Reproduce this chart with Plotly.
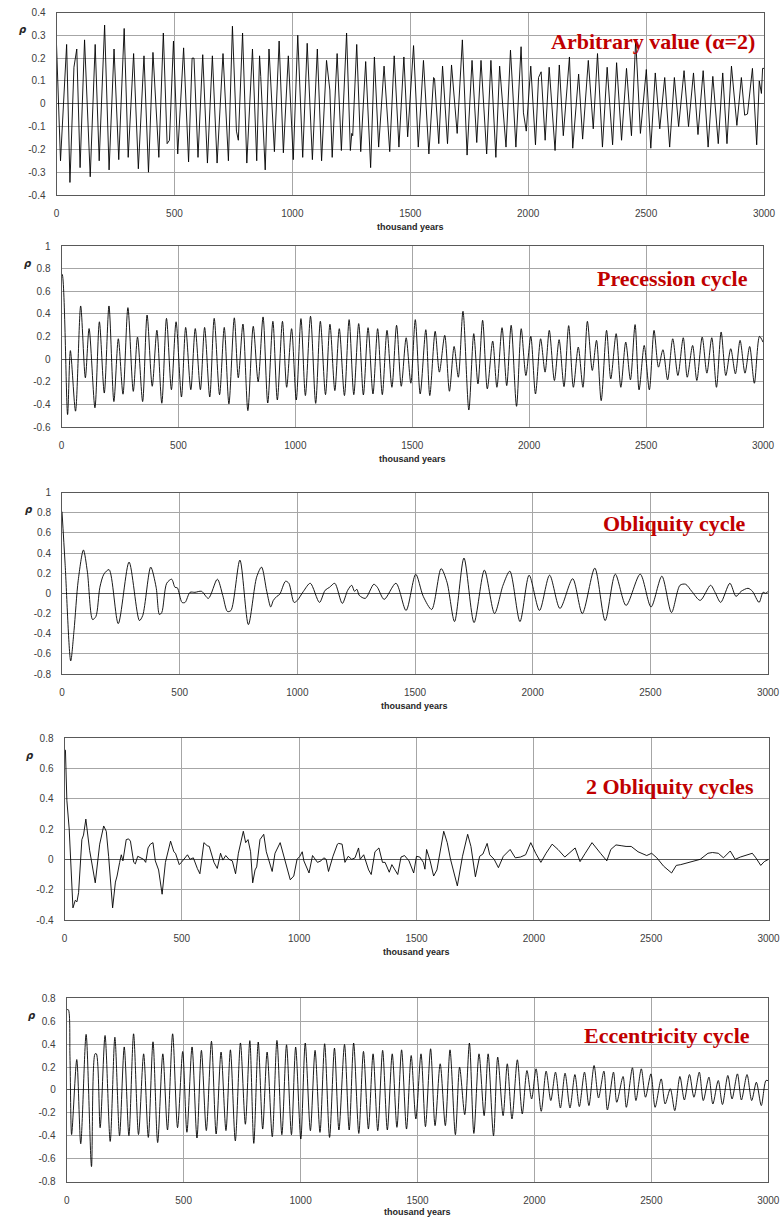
import plotly.graph_objects as go

W, H = 783, 1218

# ---------------- data (thousand years, rho) ----------------
p1_x = [0, 17, 43, 57, 74, 86, 100, 119, 143, 164,
        181, 204, 223, 244, 264, 287, 304, 327, 347, 371,
        390, 409, 434, 453, 469, 479, 496, 514, 539, 560,
        575, 583, 600, 620, 640, 661, 681, 706, 729, 746,
        763, 771, 789, 807, 831, 849, 861, 866, 885, 901,
        924, 944, 962, 983, 1004, 1023, 1044, 1063, 1085, 1106,
        1124, 1145, 1159, 1169, 1190, 1208, 1230, 1246, 1252, 1256,
        1273, 1290, 1311, 1332, 1348, 1366, 1389, 1413, 1432, 1452,
        1473, 1489, 1514, 1534, 1556, 1579, 1599, 1603, 1621, 1637,
        1658, 1675, 1699, 1721, 1741, 1762, 1782, 1800, 1824, 1842,
        1863, 1879, 1906, 1925, 1948, 1970, 1980, 1992, 2011, 2031,
        2044, 2055, 2072, 2089, 2114, 2132, 2149, 2175, 2189, 2214,
        2231, 2255, 2276, 2294, 2315, 2335, 2358, 2375, 2396, 2417,
        2438, 2456, 2476, 2501, 2520, 2539, 2558, 2579, 2600, 2620,
        2638, 2661, 2680, 2701, 2720, 2742, 2763, 2783, 2806, 2825,
        2843, 2862, 2885, 2904, 2918, 2930, 2951, 2969, 2980, 2989,
        2994, 3000]
p1_y = [0.26, -0.25, 0.26, -0.345, 0.16, 0.24, -0.28, 0.28, -0.32, 0.26,
        -0.25, 0.345, -0.29, 0.24, -0.245, 0.33, -0.235, 0.22, -0.285, 0.21,
        -0.30, 0.225, -0.235, 0.31, -0.175, -0.16, 0.275, -0.22, 0.245, -0.255,
        0.20, 0.20, -0.235, 0.215, -0.26, 0.21, -0.26, 0.22, -0.25, 0.34,
        -0.12, -0.16, 0.31, -0.26, 0.24, -0.25, 0.21, 0.12, -0.29, 0.24,
        -0.21, 0.275, -0.215, 0.21, -0.245, 0.30, -0.235, 0.265, -0.245, 0.24,
        -0.25, 0.19, 0.06, -0.235, 0.22, -0.205, 0.31, -0.205, -0.13, -0.14,
        0.26, -0.21, 0.185, -0.28, 0.205, -0.19, 0.165, -0.21, 0.21, -0.19,
        0.205, -0.145, 0.255, -0.19, 0.19, -0.22, 0.115, 0.11, -0.175, 0.165,
        -0.175, 0.17, -0.13, 0.28, -0.225, 0.19, -0.17, 0.19, -0.22, 0.19,
        -0.235, 0.165, -0.19, 0.235, -0.19, 0.25, -0.04, -0.12, 0.165, -0.18,
        0.115, 0.14, -0.16, 0.16, -0.205, 0.17, -0.14, 0.205, -0.195, 0.13,
        -0.155, 0.19, -0.11, 0.22, -0.19, 0.16, -0.18, 0.18, -0.16, 0.155,
        -0.14, 0.28, -0.13, 0.15, -0.195, 0.135, -0.11, 0.115, -0.19, 0.115,
        -0.10, 0.145, -0.10, 0.135, -0.135, 0.145, -0.19, 0.12, -0.175, 0.135,
        -0.175, 0.165, -0.095, 0.115, -0.05, -0.045, 0.155, -0.18, 0.10, 0.045,
        0.155, 0.155]

p2_x = [0, 3, 26, 38, 60, 82, 102, 118, 143, 162,
        183, 203, 224, 243, 263, 284, 307, 325, 347, 366,
        388, 408, 429, 449, 470, 490, 513, 531, 553, 572,
        594, 612, 634, 653, 676, 696, 716, 739, 756, 776,
        797, 820, 841, 862, 882, 904, 923, 945, 963, 984,
        1004, 1024, 1043, 1065, 1087, 1107, 1129, 1148, 1169, 1188,
        1210, 1230, 1250, 1271, 1291, 1311, 1332, 1352, 1372, 1392,
        1413, 1433, 1453, 1474, 1494, 1513, 1534, 1558, 1575, 1598,
        1616, 1639, 1659, 1679, 1697, 1717, 1742, 1763, 1781, 1801,
        1821, 1844, 1862, 1884, 1904, 1923, 1946, 1966, 1986, 2007,
        2027, 2049, 2068, 2086, 2108, 2128, 2149, 2169, 2189, 2210,
        2230, 2249, 2270, 2288, 2308, 2331, 2349, 2372, 2392, 2413,
        2433, 2453, 2470, 2492, 2514, 2534, 2553, 2572, 2592, 2614,
        2636, 2659, 2676, 2699, 2717, 2740, 2760, 2781, 2801, 2821,
        2841, 2862, 2882, 2902, 2923, 2943, 2963, 2985, 3000]
p2_y = [0.75, 0.75, -0.49, 0.075, -0.46, 0.47, -0.165, 0.27, -0.43, 0.33,
        -0.30, 0.47, -0.375, 0.18, -0.31, 0.455, -0.285, 0.195, -0.375, 0.39,
        -0.24, 0.255, -0.39, 0.36, -0.27, 0.33, -0.335, 0.28, -0.27, 0.27,
        -0.27, 0.28, -0.335, 0.36, -0.315, 0.28, -0.395, 0.365, -0.165, 0.31,
        -0.455, 0.29, -0.20, 0.373, -0.388, 0.334, -0.361, 0.334, -0.249, 0.269,
        -0.361, 0.358, -0.322, 0.379, -0.391, 0.334, -0.314, 0.308, -0.278, 0.269,
        -0.322, 0.349, -0.314, 0.314, -0.317, 0.278, -0.308, 0.269, -0.314, 0.254,
        -0.249, 0.299, -0.24, 0.189, -0.213, 0.349, -0.308, 0.26, -0.322, 0.246,
        -0.115, 0.21, -0.284, 0.112, -0.16, 0.423, -0.45, 0.225, -0.219, 0.343,
        -0.263, 0.16, -0.249, 0.278, -0.234, 0.299, -0.417, 0.269, -0.145, 0.201,
        -0.308, 0.18, -0.115, 0.254, -0.189, 0.172, -0.243, 0.296, -0.249, 0.107,
        -0.249, 0.334, -0.10, 0.166, -0.367, 0.254, -0.175, 0.225, -0.249, 0.151,
        -0.183, 0.305, -0.272, 0.121, -0.272, 0.254, -0.071, 0.083, -0.183, 0.18,
        -0.145, 0.189, -0.16, 0.121, -0.189, 0.195, -0.124, 0.189, -0.249, 0.24,
        -0.145, 0.092, -0.13, 0.166, -0.124, 0.112, -0.213, 0.201, 0.15]

p3_x = [0, 13, 37, 51, 69, 91, 108, 130, 144, 161,
        178, 200, 239, 285, 329, 343, 377, 400, 414, 424,
        445, 466, 480, 490, 510, 523, 544, 565, 593, 622,
        660, 683, 703, 718, 756, 792, 827, 848, 870, 887,
        898, 913, 925, 950, 964, 986, 1000, 1026, 1055, 1094,
        1118, 1137, 1159, 1191, 1214, 1231, 1243, 1253, 1263, 1289,
        1325, 1340, 1369, 1419, 1462, 1503, 1535, 1571, 1611, 1636,
        1668, 1708, 1751, 1795, 1838, 1874, 1903, 1946, 1985, 2029,
        2072, 2116, 2170, 2211, 2264, 2308, 2351, 2397, 2457, 2503,
        2549, 2590, 2626, 2650, 2676, 2712, 2756, 2775, 2799, 2838,
        2864, 2886, 2915, 2934, 2962, 2979, 2991, 3000]
p3_y = [0.81, 0.30, -0.67, -0.37, 0.13, 0.43, 0.21, -0.26, -0.23, 0.06,
        0.19, 0.235, -0.30, 0.31, -0.27, -0.22, 0.26, 0.06, -0.21, -0.19,
        0.10, 0.14, 0.06, 0.055, -0.09, -0.09, 0.01, 0.01, 0.02, -0.05,
        0.14, -0.02, -0.18, -0.17, 0.33, -0.31, 0.16, 0.26, 0.02, -0.135,
        -0.07, -0.03, -0.01, 0.12, 0.10, -0.09, -0.07, 0.02, 0.10, -0.09,
        0.03, 0.06, 0.10, -0.10, 0.03, 0.08, 0.02, 0.04, -0.02, -0.05,
        0.09, 0.06, -0.06, 0.10, -0.17, 0.19, -0.03, -0.16, 0.245, 0.11,
        -0.28, 0.35, -0.29, 0.23, -0.20, 0.08, 0.22, -0.28, 0.18, -0.17,
        0.18, -0.15, 0.145, -0.20, 0.25, -0.27, 0.19, -0.12, 0.19, -0.135,
        0.17, -0.19, 0.08, 0.09, 0.02, -0.07, 0.08, 0.01, -0.09, 0.10,
        -0.03, 0.02, 0.05, 0.02, -0.09, 0.01, 0.0, 0.02]

p4_x = [0, 4, 10, 20, 36, 46, 53, 60, 74, 81,
        91, 107, 131, 150, 167, 178, 188, 205, 217, 224,
        235, 242, 249, 263, 273, 281, 295, 302, 312, 323,
        337, 346, 356, 366, 377, 387, 401, 416, 430, 452,
        466, 473, 489, 498, 524, 535, 549, 566, 577, 594,
        608, 617, 637, 651, 665, 675, 687, 701, 715, 729,
        741, 762, 772, 782, 793, 802, 812, 819, 833, 849,
        860, 885, 897, 919, 937, 962, 977, 991, 1003, 1013,
        1020, 1032, 1042, 1057, 1068, 1078, 1093, 1105, 1115, 1125,
        1144, 1163, 1168, 1183, 1195, 1209, 1224, 1238, 1253, 1260,
        1275, 1282, 1296, 1307, 1323, 1340, 1355, 1366, 1384, 1395,
        1410, 1420, 1434, 1449, 1468, 1488, 1500, 1514, 1529, 1536,
        1543, 1558, 1573, 1587, 1616, 1631, 1645, 1674, 1696, 1718,
        1732, 1751, 1769, 1783, 1801, 1812, 1831, 1849, 1870, 1899,
        1921, 1943, 1965, 1987, 2008, 2030, 2052, 2078, 2103, 2132,
        2176, 2197, 2219, 2248, 2284, 2311, 2328, 2350, 2372, 2393,
        2415, 2444, 2481, 2502, 2524, 2553, 2587, 2607, 2626, 2651,
        2677, 2709, 2742, 2761, 2786, 2808, 2837, 2858, 2880, 2909,
        2931, 2946, 2967, 2982, 3000]
p4_y = [0.72, 0.72, 0.39, 0.20, -0.32, -0.27, -0.28, -0.22, 0.13, 0.16,
        0.265, 0.06, -0.155, 0.10, 0.22, 0.185, 0.02, -0.32, -0.15, -0.11,
        -0.02, 0.03, -0.01, 0.13, 0.135, 0.12, -0.02, -0.03, 0.02, 0.01,
        0.0, -0.02, 0.075, 0.10, 0.11, -0.01, -0.07, -0.23, -0.02, 0.12,
        0.05, 0.04, -0.035, -0.02, 0.03, 0.0, 0.01, -0.06, -0.095, 0.11,
        0.09, 0.085, -0.02, -0.06, 0.04, -0.005, 0.025, 0.0, -0.01, -0.095,
        0.04, 0.185, 0.11, 0.13, 0.05, -0.155, -0.07, -0.05, 0.13, 0.165,
        0.05, -0.08, 0.04, 0.11, 0.0, -0.135, -0.11, 0.0, 0.02, 0.05,
        -0.01, -0.05, -0.09, 0.025, 0.0, -0.02, -0.01, 0.01, 0.0, -0.08,
        0.02, 0.10, 0.105, 0.10, -0.02, 0.02, 0.0, 0.01, 0.075, 0.0,
        0.03, 0.0, -0.07, -0.10, 0.05, 0.075, -0.02, -0.02, -0.085, -0.035,
        -0.08, -0.10, 0.015, 0.025, -0.01, -0.09, 0.02, 0.015, -0.02, -0.065,
        0.065, -0.01, -0.11, -0.07, 0.185, 0.11, 0.0, -0.175, 0.02, 0.165,
        0.085, -0.115, 0.02, 0.035, 0.105, 0.03, 0.0, -0.055, 0.02, 0.065,
        0.01, 0.015, 0.03, 0.11, 0.04, -0.02, 0.04, 0.10, 0.065, 0.015,
        0.075, -0.015, 0.04, 0.11, 0.04, -0.01, 0.065, 0.095, 0.09, 0.085,
        0.085, 0.05, 0.025, 0.04, 0.01, -0.045, -0.09, -0.04, -0.035, -0.025,
        -0.015, 0.0, 0.04, 0.045, 0.04, 0.01, 0.055, 0.0, 0.015, 0.03,
        0.04, 0.01, -0.04, -0.015, 0.0]

p5_x = [0, 7, 14, 21, 43, 60, 83, 106, 121, 127,
        143, 164, 186, 206, 226, 246, 266, 286, 307, 329,
        349, 369, 389, 411, 431, 453, 474, 496, 514, 536,
        557, 576, 597, 619, 639, 660, 681, 700, 721, 743,
        764, 783, 800, 819, 838, 857, 879, 899, 920, 940,
        961, 979, 1001, 1020, 1042, 1062, 1083, 1103, 1124, 1145,
        1164, 1188, 1208, 1227, 1249, 1269, 1290, 1310, 1330, 1351,
        1371, 1392, 1412, 1432, 1453, 1473, 1493, 1515, 1534, 1556,
        1575, 1597, 1619, 1639, 1662, 1680, 1702, 1722, 1741, 1763,
        1785, 1802, 1825, 1843, 1866, 1884, 1904, 1927, 1948, 1968,
        1988, 2007, 2029, 2050, 2070, 2090, 2111, 2131, 2152, 2173,
        2192, 2214, 2233, 2255, 2274, 2297, 2312, 2338, 2352, 2379,
        2393, 2419, 2434, 2457, 2475, 2498, 2516, 2542, 2559, 2581,
        2600, 2622, 2641, 2663, 2682, 2705, 2722, 2746, 2763, 2786,
        2804, 2827, 2845, 2868, 2885, 2909, 2929, 2949, 2970, 2990,
        3000]
p5_y = [0.70, 0.70, 0.29, -0.39, 0.265, -0.47, 0.485, -0.67, 0.315, 0.315,
        -0.33, 0.475, -0.45, 0.46, -0.40, 0.375, -0.40, 0.49, -0.39, 0.315,
        -0.415, 0.42, -0.46, 0.315, -0.35, 0.49, -0.33, 0.335, -0.37, 0.375,
        -0.42, 0.345, -0.355, 0.425, -0.385, 0.33, -0.355, 0.35, -0.445, 0.41,
        -0.30, 0.43, -0.467, 0.418, -0.342, 0.33, -0.409, 0.432, -0.391, 0.394,
        -0.391, 0.374, -0.429, 0.409, -0.356, 0.345, -0.371, 0.403, -0.415, 0.365,
        -0.35, 0.397, -0.35, 0.409, -0.38, 0.336, -0.342, 0.315, -0.356, 0.345,
        -0.35, 0.315, -0.327, 0.35, -0.342, 0.30, -0.254, 0.315, -0.321, 0.359,
        -0.312, 0.228, -0.312, 0.35, -0.391, 0.199, -0.216, 0.409, -0.38, 0.315,
        -0.225, 0.315, -0.40, 0.286, -0.225, 0.228, -0.254, 0.263, -0.21, 0.169,
        -0.079, 0.184, -0.187, 0.164, -0.093, 0.155, -0.158, 0.146, -0.158, 0.134,
        -0.146, 0.155, -0.137, 0.213, -0.07, 0.164, -0.175, 0.155, -0.108, 0.117,
        -0.152, 0.193, -0.093, 0.184, -0.064, 0.14, -0.152, 0.096, -0.123, 0.01,
        -0.181, 0.117, -0.088, 0.134, -0.064, 0.155, -0.093, 0.111, -0.123, 0.082,
        -0.128, 0.126, -0.079, 0.14, -0.088, 0.134, -0.093, 0.067, -0.137, 0.082,
        0.08]

titles = ["Arbitrary value (\u03b1=2)", "Precession cycle", "Obliquity cycle",
          "2 Obliquity cycles", "Eccentricity cycle"]

x_ticks = [0, 500, 1000, 1500, 2000, 2500, 3000]
x_labels = ["0", "500", "1000", "1500", "2000", "2500", "3000"]

y1_ticks = [-0.4, -0.3, -0.2, -0.1, 0, 0.1, 0.2, 0.3, 0.4]
y1_labels = ["-0.4", "-0.3", "-0.2", "-0.1", "0", "0.1", "0.2", "0.3", "0.4"]
y2_ticks = [-0.6, -0.4, -0.2, 0, 0.2, 0.4, 0.6, 0.8, 1]
y2_labels = ["-0.6", "-0.4", "-0.2", "0", "0.2", "0.4", "0.6", "0.8", "1"]
y3_ticks = [-0.8, -0.6, -0.4, -0.2, 0, 0.2, 0.4, 0.6, 0.8, 1]
y3_labels = ["-0.8", "-0.6", "-0.4", "-0.2", "0", "0.2", "0.4", "0.6", "0.8", "1"]
y4_ticks = [-0.4, -0.2, 0, 0.2, 0.4, 0.6, 0.8]
y4_labels = ["-0.4", "-0.2", "0", "0.2", "0.4", "0.6", "0.8"]
y5_ticks = [-0.8, -0.6, -0.4, -0.2, 0, 0.2, 0.4, 0.6, 0.8]
y5_labels = ["-0.8", "-0.6", "-0.4", "-0.2", "0", "0.2", "0.4", "0.6", "0.8"]

for a, b in [(p1_x, p1_y), (p2_x, p2_y), (p3_x, p3_y), (p4_x, p4_y), (p5_x, p5_y)]:
    assert len(a) == len(b), (len(a), len(b))

# ---------------- layout geometry (pixels) ----------------
panels = [
    dict(x=p1_x, y=p1_y, yt=y1_ticks, yl=y1_labels, box=(56.5, 764, 12.5, 195),
         shape="linear", title_xy=(757, 42), rho_xy=(22, 29), xt_y=227),
    dict(x=p2_x, y=p2_y, yt=y2_ticks, yl=y2_labels, box=(61.5, 763, 246, 427),
         shape="spline", title_xy=(750, 278), rho_xy=(27, 263), xt_y=459),
    dict(x=p3_x, y=p3_y, yt=y3_ticks, yl=y3_labels, box=(62, 768, 492.5, 674),
         shape="spline", title_xy=(748, 524), rho_xy=(28, 509), xt_y=706),
    dict(x=p4_x, y=p4_y, yt=y4_ticks, yl=y4_labels, box=(64.5, 768.5, 738, 920),
         shape="linear", title_xy=(756, 786), rho_xy=(29, 755), xt_y=952),
    dict(x=p5_x, y=p5_y, yt=y5_ticks, yl=y5_labels, box=(66.7, 768.3, 998.3, 1181.5),
         shape="spline", title_xy=(752, 1035), rho_xy=(31, 1015), xt_y=1212),
]

def fx(px):
    return px / W

def fy(py):
    return 1 - py / H

fig = go.Figure()
annotations = []
layout = {}
grid_col = "#a6a6a6"
tick_font = dict(family="Liberation Sans, Arial, sans-serif", size=10, color="#404040")

for i, p in enumerate(panels, start=1):
    xa = "x" if i == 1 else f"x{i}"
    ya = "y" if i == 1 else f"y{i}"
    line = dict(color="black", width=0.9, shape=p["shape"])
    if p["shape"] == "spline":
        line["smoothing"] = 0.8
    fig.add_trace(go.Scatter(x=p["x"], y=p["y"], mode="lines", line=line,
                             xaxis=xa, yaxis=ya, showlegend=False, hoverinfo="skip"))
    l, r, t, b = p["box"]
    layout["xaxis" if i == 1 else f"xaxis{i}"] = dict(
        domain=[fx(l), fx(r)], anchor=ya, range=[0, 3000],
        tickvals=x_ticks, ticktext=x_labels, showgrid=True, gridcolor=grid_col,
        gridwidth=1, zeroline=False, showline=True, mirror=True,
        linecolor="#595959", linewidth=1, ticks="", ticklabelstandoff=9,
        tickfont=tick_font, fixedrange=True, automargin=False)
    yt = p["yt"]
    layout["yaxis" if i == 1 else f"yaxis{i}"] = dict(
        domain=[fy(b), fy(t)], anchor=xa, range=[yt[0], yt[-1]],
        tickvals=yt, ticktext=p["yl"], showgrid=True, gridcolor=grid_col,
        gridwidth=1, zeroline=True, zerolinecolor="#595959", zerolinewidth=1,
        showline=True, mirror=True, linecolor="#595959", linewidth=1,
        ticks="", ticklabelstandoff=8, tickfont=tick_font, fixedrange=True,
        automargin=False)
    tx, ty = p["title_xy"]
    annotations.append(dict(
        text="<b>" + titles[i - 1] + "</b>", x=fx(tx), y=fy(ty), xref="paper",
        yref="paper", xanchor="right", yanchor="middle", showarrow=False,
        font=dict(family="Liberation Serif, DejaVu Serif, serif", size=22,
                  color="#c00000")))
    rx, ry = p["rho_xy"]
    annotations.append(dict(
        text="<b><i>\u03c1</i></b>", x=fx(rx), y=fy(ry), xref="paper", yref="paper",
        xanchor="center", yanchor="middle", showarrow=False,
        font=dict(family="DejaVu Sans, sans-serif", size=10, color="#262626")))
    annotations.append(dict(
        text="<b>thousand years</b>", x=fx((l + r) / 2), y=fy(p["xt_y"]),
        xref="paper", yref="paper", xanchor="center", yanchor="middle",
        showarrow=False,
        font=dict(family="Liberation Sans, Arial, sans-serif", size=9, color="#262626")))

fig.update_layout(
    width=W, height=H, margin=dict(l=0, r=0, t=0, b=0, autoexpand=False),
    paper_bgcolor="white", plot_bgcolor="white",
    annotations=annotations, **layout)

fig.write_html("out.html", config={"displayModeBar": False},
               post_script="document.body.style.margin='0';document.body.style.overflow='hidden';")
